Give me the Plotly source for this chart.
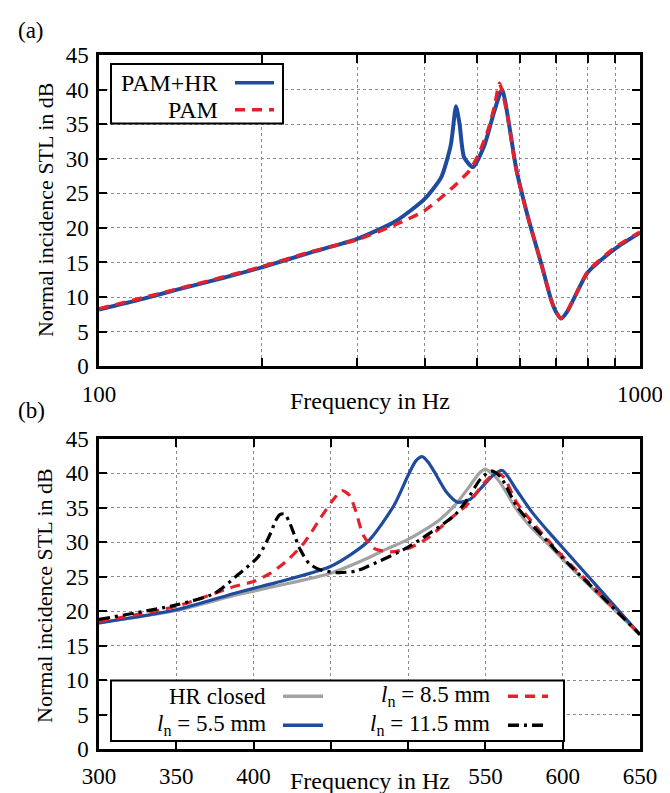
import plotly.graph_objects as go

# ---- data ----
# (a) log frequency axis, 100-1000 Hz
freq_a_hr = [100, 120, 140, 170, 200, 245, 300, 354, 400, 429, 447, 457, 464, 473, 491,
             516, 538, 556, 574, 590, 621, 657, 685, 700, 715, 735, 757, 801, 900, 1000]
stl_a_hr = [8.2, 9.7, 11.1, 12.8, 14.3, 16.4, 18.4, 21.0, 24.2, 27.3, 32.0, 37.6, 35.0, 30.2, 28.8,
            32.0, 36.9, 40.0, 34.5, 28.7, 21.5, 14.8, 9.6, 7.8, 6.9, 8.0, 10.0, 13.6, 17.0, 19.3]

freq_a_pam = [100, 140, 200, 245, 300, 354, 400, 447, 483, 500, 523, 538, 550, 560, 570,
              590, 621, 657, 685, 700, 715, 735, 757, 801, 900, 1000]
stl_a_pam = [8.3, 11.2, 14.4, 16.5, 18.3, 20.5, 22.5, 25.6, 28.2, 30.2, 34.0, 37.5, 40.9, 38.8, 35.9,
             28.5, 21.5, 14.8, 9.6, 7.8, 6.9, 8.1, 10.0, 13.7, 17.2, 19.4]

# (b) linear frequency axis, 300-650 Hz
freq_b_closed = [300, 350, 388, 400, 414, 450, 474, 486, 500, 510, 520, 530, 540, 546, 550,
                 555, 560, 570, 581, 592, 600, 625, 650]
stl_b_closed = [18.3, 20.1, 22.3, 22.9, 23.6, 25.5, 27.7, 29.0, 30.4, 31.7, 33.2, 35.3, 38.2, 40.0, 40.6,
                39.8, 38.5, 34.8, 31.8, 29.4, 27.5, 22.0, 16.6]

freq_b_55 = [300, 350, 388, 400, 414, 450, 474, 491, 500, 505, 509, 513, 517, 525, 532,
             540, 547, 555, 561, 570, 580, 592, 600, 625, 650]
stl_b_55 = [18.3, 20.2, 22.6, 23.3, 24.1, 26.5, 30.1, 35.4, 39.7, 41.8, 42.4, 41.6, 40.2, 37.2, 35.8,
            36.2, 37.8, 39.7, 40.4, 37.6, 34.4, 31.2, 29.2, 22.9, 16.6]

freq_b_85 = [300, 350, 388, 400, 411, 422, 433, 443, 452, 457, 462, 466, 471, 478, 489,
             500, 512, 530, 538, 550, 557, 562, 570, 581, 592, 600, 625, 650]
stl_b_85 = [18.5, 20.7, 23.6, 24.3, 25.5, 27.4, 30.0, 33.4, 36.3, 37.5, 36.8, 34.6, 31.0, 29.1, 28.6,
            29.1, 30.5, 33.9, 35.4, 38.8, 40.1, 39.4, 35.8, 32.7, 29.9, 27.9, 22.3, 16.6]

freq_b_115 = [300, 350, 375, 390, 403, 411, 414, 417, 420, 423, 426, 430, 436, 443, 454, 466,
              474, 500, 530, 538, 547, 554, 560, 570, 581, 592, 600, 625, 650]
stl_b_115 = [18.8, 20.9, 22.6, 25.3, 27.9, 31.3, 33.0, 34.0, 34.1, 33.0, 31.3, 29.0, 26.9, 26.0, 25.6, 25.8,
             26.5, 29.3, 33.9, 36.1, 39.2, 40.3, 39.4, 35.3, 32.3, 29.7, 27.7, 22.2, 16.6]

yticks = [0, 5, 10, 15, 20, 25, 30, 35, 40, 45]
xticks_a = [100, 200, 300, 400, 500, 600, 700, 800, 900, 1000]
xlabels_a = ["100", "", "", "", "", "", "", "", "", "1000"]
xticks_b = [300, 350, 400, 450, 500, 550, 600, 650]
xlabels_b = ["300", "350", "400", "", "", "550", "600", "650"]

names_a = ["PAM+HR", "PAM"]
ln = "<i>l</i><sub>n</sub> = "
names_b = ["HR closed", ln + "5.5 mm", ln + "8.5 mm", ln + "11.5 mm"]

BLUE = "#1f4b9e"
RED = "#e5212c"
GRAY = "#a2a2a2"
BLACK = "#000000"
FONT = "Liberation Serif"

# pixel -> paper helpers (plot area x 91..632, y 47..745)
L, R, T, B = 91, 38, 47, 48
W, H = 670 - L - R, 793 - T - B


def px(x):
    return (x - L) / W


def py(y):
    return (745 - y) / H


fig = go.Figure()

fig.add_trace(go.Scatter(x=freq_a_hr, y=stl_a_hr, mode="lines", name=names_a[0],
                         line=dict(color=BLUE, width=4, shape="spline", smoothing=0.6),
                         xaxis="x", yaxis="y"))
fig.add_trace(go.Scatter(x=freq_a_pam, y=stl_a_pam, mode="lines", name=names_a[1],
                         line=dict(color=RED, width=3.5, dash="10px,7px", shape="spline", smoothing=0.6),
                         xaxis="x", yaxis="y"))

fig.add_trace(go.Scatter(x=freq_b_closed, y=stl_b_closed, mode="lines", name=names_b[0],
                         line=dict(color=GRAY, width=3.2, shape="spline", smoothing=0.7),
                         xaxis="x2", yaxis="y2"))
fig.add_trace(go.Scatter(x=freq_b_55, y=stl_b_55, mode="lines", name=names_b[1],
                         line=dict(color=BLUE, width=3.2, shape="spline", smoothing=0.7),
                         xaxis="x2", yaxis="y2"))
fig.add_trace(go.Scatter(x=freq_b_85, y=stl_b_85, mode="lines", name=names_b[2],
                         line=dict(color=RED, width=3.2, dash="10px,7px", shape="spline", smoothing=0.7),
                         xaxis="x2", yaxis="y2"))
fig.add_trace(go.Scatter(x=freq_b_115, y=stl_b_115, mode="lines", name=names_b[3],
                         line=dict(color=BLACK, width=3.2, dash="11px,5px,3px,5px", shape="spline", smoothing=0.7),
                         xaxis="x2", yaxis="y2"))

axis_common = dict(showline=True, linecolor="black", linewidth=2.5, mirror="ticks",
                   ticks="inside", ticklen=8, tickwidth=2, tickcolor="black",
                   showgrid=True, gridcolor="#8c8c8c", griddash="dot", gridwidth=1,
                   zeroline=False, tickfont=dict(family=FONT, size=23, color="black"))

top_dom = [py(360), 1.0]
bot_dom = [0.0, py(433)]

fig.update_layout(
    width=670, height=793,
    margin=dict(l=L, r=R, t=T, b=B),
    paper_bgcolor="white", plot_bgcolor="white",
    showlegend=False,
    font=dict(family=FONT, color="black"),
    xaxis=dict(axis_common, type="log", range=[2, 3], domain=[0, 1], anchor="y",
               tickmode="array", tickvals=xticks_a, ticktext=xlabels_a, ticklabelstandoff=5),
    yaxis=dict(axis_common, range=[0, 45], domain=top_dom, anchor="x",
               tickmode="array", tickvals=yticks, ticklabelstandoff=3),
    xaxis2=dict(axis_common, range=[300, 650], domain=[0, 1], anchor="y2",
                tickmode="array", tickvals=xticks_b, ticktext=xlabels_b, ticklabelstandoff=5),
    yaxis2=dict(axis_common, range=[0, 45], domain=bot_dom, anchor="x2",
                tickmode="array", tickvals=yticks, ticklabelstandoff=3),
)

ann = []
txt = dict(family=FONT, size=23, color="black")
big = dict(family=FONT, size=24, color="black")
ytxt = dict(family=FONT, size=22, color="black")
ann.append(dict(text="(a)", x=px(8), y=py(22), xref="paper", yref="paper",
                xanchor="left", yanchor="middle", showarrow=False, font=txt))
ann.append(dict(text="(b)", x=px(8), y=py(405), xref="paper", yref="paper",
                xanchor="left", yanchor="middle", showarrow=False, font=txt))
ann.append(dict(text="Frequency in Hz", x=0.5, y=py(395), xref="paper", yref="paper",
                xanchor="center", yanchor="middle", showarrow=False, font=big))
ann.append(dict(text="Frequency in Hz", x=0.5, y=py(777), xref="paper", yref="paper",
                xanchor="center", yanchor="middle", showarrow=False, font=big))
for yc in (203, 591):
    ann.append(dict(text="Normal incidence STL in dB", x=px(37), y=py(yc), xref="paper",
                    yref="paper", textangle=-90, xanchor="center", yanchor="middle",
                    showarrow=False, font=ytxt))

shapes = []
# legend (a): text on the left, line sample on the right
shapes.append(dict(type="rect", xref="paper", yref="paper", x0=px(103), x1=px(275),
                   y0=py(56), y1=py(116), line=dict(color="black", width=2),
                   fillcolor="white", layer="above"))
leg_a = [(names_a[0], 75, BLUE, None), (names_a[1], 102, RED, "10px,7px")]
for name, yy, col, dash in leg_a:
    ann.append(dict(text=name, x=px(212), y=py(yy), xref="paper", yref="paper",
                    xanchor="right", yanchor="middle", showarrow=False, font=big))
    shapes.append(dict(type="line", xref="paper", yref="paper", x0=px(227), x1=px(266),
                       y0=py(yy), y1=py(yy), layer="above",
                       line=dict(color=col, width=3.5, dash=dash or "solid")))

# legend (b): two columns
shapes.append(dict(type="rect", xref="paper", yref="paper", x0=px(103), x1=px(556),
                   y0=py(676), y1=py(737), line=dict(color="black", width=2),
                   fillcolor="white", layer="above"))
leg_b = [(names_b[0], 260, 275, 692, GRAY, None),
         (names_b[1], 260, 275, 721, BLUE, None),
         (names_b[2], 484, 500, 692, RED, "10px,7px"),
         (names_b[3], 484, 500, 721, BLACK, "11px,5px,3px,5px")]
for name, xt, xs, yy, col, dash in leg_b:
    ann.append(dict(text=name, x=px(xt), y=py(yy), xref="paper", yref="paper",
                    xanchor="right", yanchor="middle", showarrow=False, font=txt))
    shapes.append(dict(type="line", xref="paper", yref="paper", x0=px(xs), x1=px(xs + 40),
                       y0=py(yy), y1=py(yy), layer="above",
                       line=dict(color=col, width=3.5, dash=dash or "solid")))

fig.update_layout(annotations=ann, shapes=shapes)

fig.write_html("out.html")
